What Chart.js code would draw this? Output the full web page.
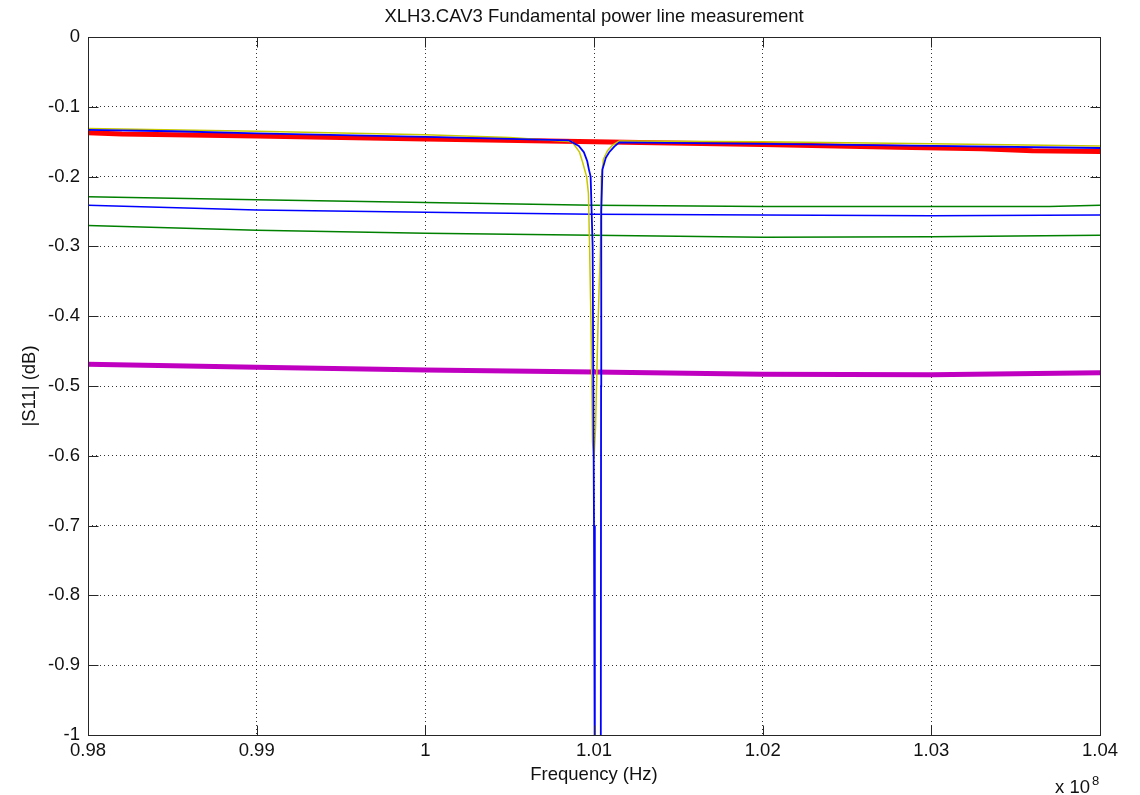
<!DOCTYPE html>
<html>
<head>
<meta charset="utf-8">
<title>XLH3.CAV3</title>
<script src="https://cdn.jsdelivr.net/npm/chart.js@4/dist/chart.umd.min.js"></script>
<style>
  html, body { margin: 0; padding: 0; background: #fff; }
  canvas { display: block; }
</style>
</head>
<body>
<canvas id="myChart" width="1140" height="795"></canvas>
<script>
// frequency in units of 1e8 Hz, |S11| in dB

// ticks
var xTicks = [0.98, 0.99, 1.00, 1.01, 1.02, 1.03, 1.04];
var xTickLabels = ['0.98', '0.99', '1', '1.01', '1.02', '1.03', '1.04'];
var yTicks = [0, -0.1, -0.2, -0.3, -0.4, -0.5, -0.6, -0.7, -0.8, -0.9, -1];
var yTickLabels = ['0', '-0.1', '-0.2', '-0.3', '-0.4', '-0.5', '-0.6', '-0.7', '-0.8', '-0.9', '-1'];

// trace with resonance (blue)
var blueF = [0.98, 0.985, 0.99, 1.00, 1.005, 1.0085, 1.0091, 1.0094, 1.0096, 1.0097, 1.0098,
             1.00992, 1.00996, 1.0100, 1.01005, 1.0102, 1.0104, 1.01042, 1.01043, 1.0105,
             1.0107, 1.0109, 1.0112, 1.0115, 1.02, 1.03, 1.04];
var blueS = [-0.133, -0.135, -0.138, -0.143, -0.146, -0.148, -0.156, -0.165, -0.178, -0.190, -0.200,
             -0.300, -0.500, -0.700, -1.100, -2.500, -1.100, -0.500, -0.250, -0.190,
             -0.173, -0.165, -0.157, -0.151, -0.153, -0.156, -0.159];

// trace with shallower resonance (yellow)
var yellowF = [0.98, 0.99, 1.00, 1.005, 1.0087, 1.00914, 1.00932, 1.00956, 1.00967, 1.00973,
               1.00983, 1.00991, 1.0100, 1.01009, 1.01023, 1.01039, 1.01043, 1.01056, 1.0108,
               1.0111, 1.0115, 1.02, 1.03, 1.04];
var yellowS = [-0.131, -0.135, -0.140, -0.144, -0.150, -0.165, -0.179, -0.200, -0.224, -0.291,
               -0.420, -0.580, -0.605, -0.560, -0.420, -0.291, -0.202, -0.175, -0.163,
               -0.155, -0.149, -0.150, -0.153, -0.156];

// flat traces
var redF = [0.98, 0.982, 0.99, 1.00, 1.01, 1.02, 1.028, 1.033, 1.036, 1.04];
var redS = [-0.137, -0.139, -0.142, -0.146, -0.150, -0.154, -0.158, -0.160, -0.163, -0.164];

var green1F = [0.98, 0.99, 1.00, 1.01, 1.02, 1.03, 1.037, 1.04];
var green1S = [-0.229, -0.233, -0.237, -0.241, -0.243, -0.243, -0.243, -0.241];

var blue2F = [0.98, 0.99, 1.00, 1.01, 1.02, 1.03, 1.04];
var blue2S = [-0.241, -0.248, -0.251, -0.254, -0.255, -0.256, -0.255];

var green2F = [0.98, 0.99, 1.00, 1.01, 1.02, 1.03, 1.04];
var green2S = [-0.270, -0.277, -0.281, -0.284, -0.287, -0.286, -0.284];

var magentaF = [0.98, 0.99, 1.00, 1.01, 1.02, 1.03, 1.04];
var magentaS = [-0.469, -0.473, -0.477, -0.480, -0.483, -0.484, -0.481];

function pts(f, s) {
    return f.map(function (v, i) { return { x: v, y: s[i] }; });
}

function trace(f, s, color, width) {
    return {
        data: pts(f, s),
        borderColor: color,
        borderWidth: width,
        pointRadius: 0,
        tension: 0,
        fill: false
    };
}

var FONT = "'Liberation Sans', Arial, Helvetica, sans-serif";

// box, inward ticks and the x 10^8 multiplier
var matlabAxes = {
    id: 'matlabAxes',
    afterDraw: function (chart) {
        var ctx = chart.ctx;
        var a = chart.chartArea;
        var xs = chart.scales.x, ys = chart.scales.y;
        var L = Math.round(a.left) + 0.5, R = Math.round(a.right) + 0.5;
        var T = Math.round(a.top) + 0.5, B = Math.round(a.bottom) + 0.5;
        var len = 10;
        ctx.save();
        ctx.strokeStyle = '#262626';
        ctx.lineWidth = 1;
        ctx.strokeRect(L, T, R - L, B - T);
        ctx.beginPath();
        xTicks.forEach(function (v) {
            var px = Math.round(xs.getPixelForValue(v)) + 0.5;
            ctx.moveTo(px, B); ctx.lineTo(px, B - len);
            ctx.moveTo(px, T); ctx.lineTo(px, T + len);
        });
        yTicks.forEach(function (v) {
            var py = Math.round(ys.getPixelForValue(v)) + 0.5;
            ctx.moveTo(L, py); ctx.lineTo(L + len, py);
            ctx.moveTo(R, py); ctx.lineTo(R - len, py);
        });
        ctx.stroke();

        ctx.fillStyle = '#111';
        ctx.textBaseline = 'alphabetic';
        ctx.textAlign = 'left';
        ctx.font = '18.5px ' + FONT;
        ctx.fillText('x 10', 1055, 793);
        ctx.font = '13px ' + FONT;
        ctx.fillText('8', 1092, 785);
        ctx.restore();
    }
};

var myChart = document.getElementById('myChart').getContext('2d');

var lineChart = new Chart(myChart, {
    type: 'line',
    data: {
        // first dataset is drawn on top
        datasets: [
            trace(blueF, blueS, '#0000ff', 1.8),
            trace(yellowF, yellowS, '#c8c800', 1.5),
            trace(redF, redS, '#ff0000', 5),
            trace(magentaF, magentaS, '#c000c0', 5),
            trace(blue2F, blue2S, '#0000ff', 1.5),
            trace(green1F, green1S, '#008000', 1.5),
            trace(green2F, green2S, '#008000', 1.5)
        ]
    },
    options: {
        responsive: false,
        animation: false,
        events: [],
        layout: {
            padding: { left: 0, right: 40, top: 0, bottom: 0 }
        },
        plugins: {
            legend: { display: false },
            tooltip: { enabled: false },
            title: {
                display: true,
                fullSize: false,
                text: 'XLH3.CAV3 Fundamental power line measurement',
                color: '#111',
                font: { family: FONT, size: 18.5, weight: 'normal' },
                padding: { top: 6, bottom: 8.8 }
            }
        },
        scales: {
            x: {
                type: 'linear',
                min: 0.98,
                max: 1.04,
                afterBuildTicks: function (scale) {
                    scale.ticks = xTicks.map(function (v) { return { value: v }; });
                },
                afterFit: function (scale) { scale.height = 60; },
                ticks: {
                    autoSkip: false,
                    maxRotation: 0,
                    padding: 5,
                    color: '#111',
                    font: { family: FONT, size: 18.5 },
                    callback: function (v, i) { return xTickLabels[i]; }
                },
                grid: {
                    color: 'rgba(0,0,0,0.8)',
                    lineWidth: 1,
                    drawTicks: false
                },
                border: { display: false, dash: [1, 3] },
                title: {
                    display: true,
                    text: 'Frequency (Hz)',
                    color: '#111',
                    font: { family: FONT, size: 18.5 },
                    padding: { top: 0, bottom: 9 }
                }
            },
            y: {
                type: 'linear',
                min: -1,
                max: 0,
                afterBuildTicks: function (scale) {
                    scale.ticks = yTicks.map(function (v) { return { value: v }; });
                },
                afterFit: function (scale) { scale.width = 88; },
                ticks: {
                    autoSkip: false,
                    padding: 8,
                    color: '#111',
                    font: { family: FONT, size: 18.5 },
                    callback: function (v, i) { return yTickLabels[i]; }
                },
                grid: {
                    color: 'rgba(0,0,0,0.8)',
                    lineWidth: 1,
                    drawTicks: false
                },
                border: { display: false, dash: [1, 3] },
                title: {
                    display: true,
                    text: '|S11| (dB)',
                    color: '#111',
                    font: { family: FONT, size: 18.5 },
                    padding: { top: 19, bottom: 0 }
                }
            }
        }
    },
    plugins: [matlabAxes]
});
</script>
</body>
</html>
